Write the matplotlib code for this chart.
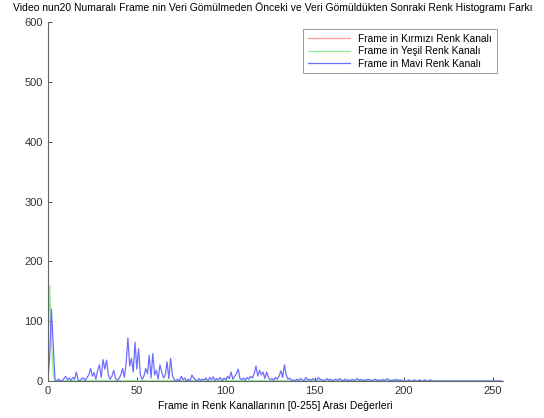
import numpy as np
import matplotlib
matplotlib.use("Agg")
from matplotlib import pyplot as plt

plt.rcParams['font.family'] = ['Liberation Sans', 'DejaVu Sans']

# pixel values 0..255
levels = np.arange(256)

blue_diff = [
    0, 40, 120, 60, 2, 0, 3, 1, 0, 4, 8, 2, 5, 1, 6, 3, 15, 2, 0, 4,
    5, 1, 6, 10, 21, 8, 14, 3, 18, 27, 6, 36, 20, 35, 10, 3, 8, 18, 5, 1,
    4, 10, 21, 6, 30, 72, 25, 38, 15, 65, 20, 54, 10, 3, 8, 21, 12, 43, 5, 46,
    10, 18, 3, 27, 15, 5, 10, 32, 4, 38, 10, 2, 1, 3, 0, 8, 2, 5, 0, 3,
    1, 10, 5, 2, 0, 4, 1, 3, 2, 5, 0, 6, 2, 7, 1, 4, 2, 6, 0, 5,
    2, 8, 4, 15, 3, 8, 12, 20, 4, 2, 5, 1, 6, 3, 8, 5, 12, 25, 8, 18,
    10, 15, 4, 15, 6, 2, 4, 1, 6, 3, 8, 17, 6, 27, 10, 3, 5, 1, 2, 0,
    3, 1, 4, 2, 0, 6, 2, 3, 1, 4, 2, 0, 6, 2, 3, 0, 2, 4, 1, 3,
    0, 2, 3, 1, 4, 2, 0, 3, 1, 2, 0, 3, 1, 2, 4, 1, 3, 0, 2, 1,
    3, 2, 0, 2, 3, 1, 2, 0, 3, 1, 2, 4, 1, 0, 2, 1, 3, 0, 2, 1,
    0, 0, 0, 2, 0, 0, 2, 0, 0, 2, 0, 0, 2, 0, 0, 2, 0, 0, 0, 0,
    0, 0, 0, 0, 0, 0, 0, 0, 0, 0, 0, 0, 0, 0, 0, 0, 0, 0, 0, 0,
    0, 0, 0, 0, 0, 0, 0, 0, 0, 0, 0, 0, 0, 0, 0, 0,
]

green_diff = [
    30, 160, 70, 10, 0, 1, 0, 1, 0, 1, 0, 1, 1, 0, 1, 0, 1, 0, 1, 0,
    1, 0, 1, 0, 1, 1, 0, 1, 0, 1, 0, 1, 0, 1, 0, 1, 0, 1, 0, 1,
    0, 1, 0, 1, 0, 1, 0, 1, 0, 1, 0, 1, 0, 1, 0, 1, 0, 1, 0, 1,
    0, 1, 0, 1, 0, 1, 0, 1, 0, 1, 0, 1, 0, 1, 0, 1, 0, 1, 0, 1,
    0, 1, 0, 1, 0, 1, 0, 1, 0, 1, 0, 1, 0, 1, 0, 1, 0, 1, 0, 1,
    0, 1, 0, 1, 0, 1, 0, 1, 0, 1, 0, 1, 0, 1, 0, 1, 0, 1, 0, 1,
    0, 1, 0, 1, 0, 1, 0, 1, 0, 1, 0, 1, 0, 1, 0, 1, 0, 1, 0, 1,
    0, 1, 0, 1, 0, 1, 0, 1, 0, 1, 0, 1, 0, 1, 0, 1, 0, 1, 0, 1,
    0, 2, 0, 1, 0, 2, 0, 1, 0, 2, 0, 1, 0, 2, 0, 1, 0, 2, 0, 1,
    0, 2, 0, 1, 0, 2, 0, 1, 0, 2, 0, 1, 0, 2, 0, 1, 0, 2, 0, 1,
    0, 1, 0, 1, 0, 1, 0, 1, 0, 1, 0, 1, 0, 1, 0, 1, 0, 1, 0, 0,
    0, 0, 0, 0, 0, 0, 0, 0, 0, 0, 0, 0, 0, 0, 0, 0, 0, 0, 0, 0,
    0, 0, 0, 0, 0, 0, 0, 0, 0, 0, 0, 0, 0, 0, 0, 0,
]

red_diff = [0] * 256

fig = plt.figure(figsize=(5.44, 4.18), dpi=100)
ax = fig.add_axes([0.088, 0.0885, 0.837, 0.8585])

ax.plot(levels, red_diff, color='#ff9a9a', lw=0.9, label='Frame in Kırmızı Renk Kanalı')
ax.plot(levels, green_diff, color='#8cf08c', lw=0.9, label='Frame in Yeşil Renk Kanalı')
ax.plot(levels, blue_diff, color='#6e6eff', lw=0.9, label='Frame in Mavi Renk Kanalı')

ax.set_xlim(0, 256)
ax.set_ylim(0, 600)
ax.set_xticks([0, 50, 100, 150, 200, 250])
ax.set_yticks(range(0, 601, 100))
ax.tick_params(direction='in', length=3, labelsize=8, colors='#333333', width=0.6)
for side in ['top', 'right']:
    ax.spines[side].set_visible(False)
for side in ['left', 'bottom']:
    ax.spines[side].set_color('#666666')
    ax.spines[side].set_linewidth(0.8)

ax.set_title('Video nun20 Numaralı Frame nin Veri Gömülmeden Önceki ve Veri Gömüldükten Sonraki Renk Histogramı Farkı',
             fontsize=7.5, pad=8, x=0.493)
ax.set_xlabel('Frame in Renk Kanallarının [0-255] Arası Değerleri', fontsize=7.5, labelpad=4)

leg = ax.legend(loc='upper right', bbox_to_anchor=(0.997, 0.995), fontsize=7.3, fancybox=False,
                edgecolor='#888888', framealpha=1, handlelength=4.2, borderpad=0.45, labelspacing=0.25)
leg.get_frame().set_linewidth(0.6)

fig.savefig('out.png', dpi=100)
